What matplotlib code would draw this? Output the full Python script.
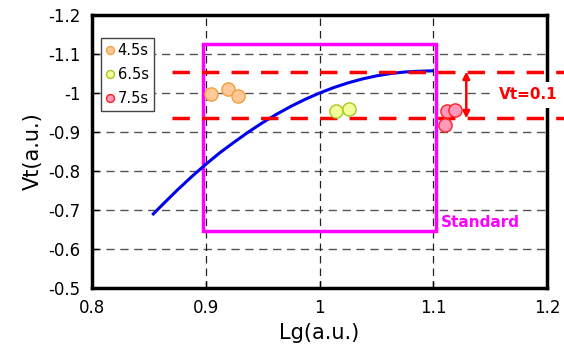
import numpy as np
import matplotlib
matplotlib.use("Agg")
import matplotlib.pyplot as plt
from matplotlib.patches import Rectangle

# Datos
fit_x = [0.853, 0.8625, 0.875, 0.8875, 0.900, 0.9125, 0.925, 0.9375, 0.950, 0.9625,
         0.975, 0.9875, 1.000, 1.0125, 1.025, 1.0375, 1.050, 1.0625, 1.075, 1.0875, 1.100]
fit_y = [-0.687, -0.715, -0.751, -0.785, -0.817, -0.847, -0.874, -0.900, -0.924, -0.946,
         -0.966, -0.984, -1.000, -1.014, -1.026, -1.036, -1.044, -1.050, -1.054, -1.056, -1.057]

x_45 = [0.905, 0.920, 0.928]
y_45 = [-0.997, -1.010, -0.992]
x_65 = [1.0145, 1.026]
y_65 = [-0.954, -0.959]
x_75 = [1.112, 1.119, 1.110]
y_75 = [-0.954, -0.956, -0.918]

vt_upper = -1.055
vt_lower = -0.935
std_x = [0.898, 1.102]
std_y = [-1.125, -0.645]

xticks = [0.8, 0.9, 1.0, 1.1, 1.2]
xtick_labels = ["0.8", "0.9", "1", "1.1", "1.2"]
yticks = [-1.2, -1.1, -1.0, -0.9, -0.8, -0.7, -0.6, -0.5]
ytick_labels = ["-1.2", "-1.1", "-1", "-0.9", "-0.8", "-0.7", "-0.6", "-0.5"]

fig = plt.figure(figsize=(5.64, 3.59), dpi=100)
ax = fig.add_axes([0.163, 0.198, 0.807, 0.760])

ax.set_xlim(0.8, 1.2)
ax.set_ylim(-0.5, -1.2)

# rejilla discontinua
for yv in yticks[1:-1]:
    ax.axhline(yv, color="#555555", lw=1, ls=(0, (6, 4)), zorder=1)
for xv in xticks[1:-1]:
    ax.axvline(xv, color="#222222", lw=0.9, ls=(0, (6, 4)), zorder=1)

# rectángulo estándar
ax.add_patch(Rectangle((std_x[0], std_y[0]), std_x[1] - std_x[0], std_y[1] - std_y[0],
                       fill=False, ec="#FF00FF", lw=2.5, zorder=3))
ax.text(1.107, -0.667, "Standard", color="#FF00FF", fontsize=11, fontweight="bold",
        va="center", ha="left", zorder=5)

# ajuste
ax.plot(fit_x, fit_y, color="#0000EE", lw=2.2, zorder=4, solid_capstyle="butt")

# líneas Vt
for yv in [vt_upper, vt_lower]:
    ax.plot([0.870, 1.215], [yv, yv], color="#FF0000", lw=2.5, ls=(0, (5, 3.5)),
            clip_on=False, zorder=4)
ax.annotate("", xy=(1.129, vt_upper), xytext=(1.129, vt_lower),
            arrowprops=dict(arrowstyle="<|-|>", color="#FF0000", lw=1.8,
                            mutation_scale=10, shrinkA=0, shrinkB=0), zorder=5)
ax.text(1.158, -0.995, "Vt=0.1", color="#FF0000", fontsize=11, fontweight="bold",
        va="center", ha="left", clip_on=False, zorder=8,
        bbox=dict(facecolor="white", edgecolor="none", pad=4))

ms = 9.5
ax.plot(x_45, y_45, "o", ms=ms, mfc="#FFC896", mec="#F0A040", mew=1, ls="none",
        label="4.5s", zorder=6)
ax.plot(x_65, y_65, "o", ms=ms, mfc="#F2FF9A", mec="#A8C820", mew=1, ls="none",
        label="6.5s", zorder=6)
ax.plot(x_75, y_75, "o", ms=ms, mfc="#FF99BB", mec="#FF2020", mew=1, ls="none",
        label="7.5s", zorder=6)

leg = ax.legend(loc="upper left", bbox_to_anchor=(0.02, 0.915), fontsize=10.5,
                markerscale=0.6, handlelength=0.5, handletextpad=0.3,
                borderpad=0.35, labelspacing=0.6, fancybox=False, framealpha=1,
                edgecolor="#444444", borderaxespad=0)
leg.get_frame().set_linewidth(1)
leg.set_zorder(7)

ax.set_xticks(xticks)
ax.set_xticklabels(xtick_labels)
ax.set_yticks(yticks)
ax.set_yticklabels(ytick_labels)
ax.tick_params(direction="in", length=5, width=1, labelsize=12, pad=8)
for s in ax.spines.values():
    s.set_linewidth(2.5)

ax.set_xlabel("Lg(a.u.)", fontsize=15, labelpad=4)
ax.set_ylabel("Vt(a.u.)", fontsize=15, labelpad=4)

fig.savefig("out.png", dpi=100)
